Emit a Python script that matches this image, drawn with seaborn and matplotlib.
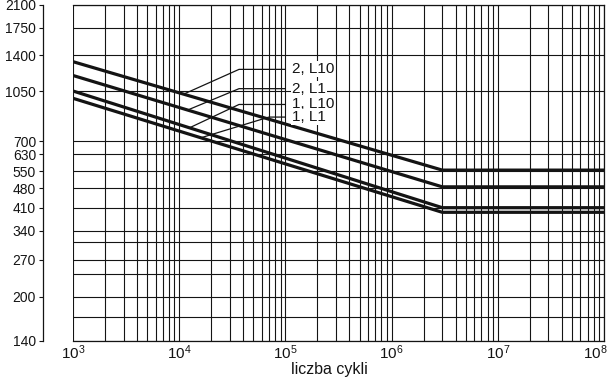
import numpy as np
import pandas as pd
import matplotlib
matplotlib.use("Agg")
import matplotlib.pyplot as plt
import matplotlib.transforms as mtransforms
import seaborn as sns
from matplotlib.ticker import FixedLocator, FixedFormatter, LogLocator, NullFormatter, LogFormatterSciNotation

# ---- data ----
series = ["2, L10", "2, L1", "1, L10", "1, L1"]
n_points = [1e3, 3e6, 1e8]                # start, knee, end of each curve
s_start = [1330, 1190, 1050, 990]         # stress at 10^3 cycles
s_knee = [555, 485, 410, 395]             # fatigue limit (from knee on)

ytick_vals = [140, 200, 270, 340, 410, 480, 550, 630, 700, 1050, 1400, 1750, 2100]
ytick_labels = [str(v) for v in ytick_vals]
y_extra_grid = [170, 240, 310]

# leader lines for labels
leader_anchor_n = [1.1e4, 1.2e4, 1.25e4, 1.6e4]
leader_knee_n = [3.66e4, 3.66e4, 3.66e4, 7.0e4]
leader_end_n = 1.0e5
label_n = 1.15e5
label_s = [1250, 1070, 942, 851]

# ---- build frame ----
rows = []
for name, s0, sk in zip(series, s_start, s_knee):
    for n, s in zip(n_points, [s0, sk, sk]):
        rows.append({"series": name, "N": n, "S": s})
df = pd.DataFrame(rows)

sns.set_theme(style="white")
plt.rcParams["font.family"] = ["Liberation Sans", "DejaVu Sans"]
plt.rcParams["mathtext.default"] = "regular"

fig = plt.figure(figsize=(6.12, 3.77), dpi=100)
ax = fig.add_axes([73 / 612, 36 / 377, 531 / 612, 336 / 377])

ink = "#141414"
sns.lineplot(data=df, x="N", y="S", hue="series",
             palette={s: ink for s in series}, estimator=None, sort=False,
             legend=False, linewidth=2.3, ax=ax)

ax.set_xscale("log")
ax.set_yscale("log")
ax.set_xlim(1e3, 1e8)
ax.set_ylim(140, 2100)

ax.xaxis.set_major_locator(LogLocator(base=10, numticks=10))
ax.xaxis.set_minor_locator(LogLocator(base=10, subs=np.arange(2, 10), numticks=20))
ax.xaxis.set_major_formatter(LogFormatterSciNotation())
ax.xaxis.set_minor_formatter(NullFormatter())

ax.yaxis.set_major_locator(FixedLocator(ytick_vals))
ax.yaxis.set_major_formatter(FixedFormatter(ytick_labels))
ax.yaxis.set_minor_locator(FixedLocator(y_extra_grid))
ax.yaxis.set_minor_formatter(NullFormatter())

ax.grid(True, which="both", color=ink, linewidth=0.8)
ax.set_axisbelow(True)

ax.tick_params(axis="x", which="both", length=0, pad=2, labelsize=11, colors=ink)
ax.tick_params(axis="y", which="major", left=True, length=3, width=0.8, pad=2,
               labelsize=10, colors=ink)
ax.tick_params(axis="y", which="minor", left=False, length=0)

for sp in ax.spines.values():
    sp.set_color(ink)
    sp.set_linewidth(0.9)
ax.spines["left"].set_position(("outward", 21.6))

ax.set_ylabel("")
ax.set_xlabel("liczba cykli", fontsize=11.5, color=ink)
ax.xaxis.set_label_coords(0.482, -0.062)

# leader lines and labels
lg_start = np.log10(n_points[0])
lg_knee = np.log10(n_points[1])
for name, s0, sk, an, kn, ls in zip(series, s_start, s_knee, leader_anchor_n,
                                    leader_knee_n, label_s):
    s_at = 10 ** np.interp(np.log10(an), [lg_start, lg_knee], [np.log10(s0), np.log10(sk)])
    ax.plot([an, kn, leader_end_n], [s_at, ls, ls], color=ink, linewidth=0.9)
    ax.text(label_n, ls, name, ha="left", va="center", fontsize=11, color=ink,
            bbox=dict(facecolor="white", edgecolor="none", pad=0.8))

# keep the last x label inside the figure
fig.canvas.draw()
shift = mtransforms.ScaledTranslation(-6 / 72, 0, fig.dpi_scale_trans)
for tick in ax.xaxis.get_major_ticks():
    loc = tick.get_loc()
    if loc is not None and np.isclose(loc, 1e8):
        tick.label1.set_transform(tick.label1.get_transform() + shift)

fig.savefig("out.png", dpi=100)
